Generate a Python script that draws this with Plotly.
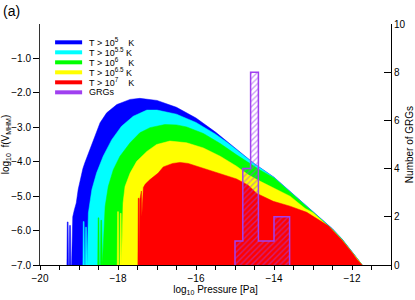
import plotly.graph_objects as go

# ---------------- data ----------------
blue_x = [-19.31, -19.30, -19.28, -19.27, -19.25, -19.24, -19.22, -19.21, -19.19, -19.16,
          -19.12, -19.07, -19.02, -18.97, -18.90, -18.85, -18.72, -18.59, -18.46, -18.29,
          -18.03, -17.69, -17.44, -17.0, -16.5, -16.0, -15.5, -15.0, -14.5, -14.0,
          -13.5, -13.0, -12.5, -12.25, -12.0, -11.87, -11.74]
blue_y = [-7.0, -5.75, -5.75, -7.0, -7.0, -5.85, -5.85, -7.0, -7.0, -5.6,
          -5.4, -5.2, -4.8, -4.52, -4.2, -4.03, -3.65, -3.26, -2.87, -2.58,
          -2.34, -2.19, -2.16, -2.22, -2.42, -2.73, -3.14, -3.6, -4.06, -4.45,
          -4.95, -5.45, -5.95, -6.25, -6.6, -6.8, -7.0]

cyan_x = [-18.90, -18.89, -18.87, -18.86, -18.84, -18.83, -18.81, -18.79, -18.76, -18.72,
          -18.67, -18.55, -18.38, -18.16, -17.91, -17.61, -17.26, -17.0, -16.5, -16.0,
          -15.5, -15.2, -15.0, -14.5, -14.0, -13.5, -13.0, -12.5, -12.25, -12.0,
          -11.87, -11.74]
cyan_y = [-7.0, -5.74, -5.74, -7.0, -7.0, -5.9, -5.9, -7.0, -5.49, -5.2,
          -4.81, -4.33, -3.84, -3.36, -2.97, -2.68, -2.5, -2.5, -2.62, -2.86,
          -3.2, -3.44, -3.62, -4.07, -4.46, -4.96, -5.46, -5.96, -6.26, -6.61,
          -6.81, -7.0]

green_x = [-18.52, -18.51, -18.49, -18.48, -18.45, -18.44, -18.42, -18.40, -18.33, -18.25,
           -18.12, -17.95, -17.69, -17.44, -17.18, -16.97, -16.8, -16.5, -16.24, -15.81,
           -15.38, -14.96, -14.66, -14.36, -14.0, -13.5, -13.0, -12.5, -12.25, -12.0,
           -11.87, -11.74]
green_y = [-7.0, -5.63, -5.63, -7.0, -7.0, -5.7, -5.7, -7.0, -5.3, -4.72,
           -4.23, -3.84, -3.45, -3.16, -3.01, -2.95, -2.92, -2.93, -2.99, -3.18,
           -3.47, -3.8, -4.02, -4.24, -4.47, -4.97, -5.47, -5.97, -6.27, -6.62,
           -6.82, -7.0]

yellow_x = [-18.02, -18.01, -17.99, -17.98, -17.95, -17.94, -17.92, -17.91, -17.87, -17.82,
            -17.69, -17.52, -17.26, -17.01, -16.67, -16.24, -15.81, -15.38, -14.96, -14.66,
            -14.44, -14.02, -13.59, -13.2, -13.0, -12.5, -12.25, -12.0, -11.87, -11.74]
yellow_y = [-7.0, -5.45, -5.45, -7.0, -7.0, -5.5, -5.5, -7.0, -5.2, -4.72,
            -4.33, -3.99, -3.7, -3.5, -3.4, -3.45, -3.6, -3.84, -4.13, -4.38,
            -4.52, -4.76, -5.0, -5.36, -5.48, -5.98, -6.28, -6.63, -6.83, -7.0]

red_x = [-17.49, -17.48, -17.46, -17.45, -17.44, -17.40, -17.39, -17.37, -17.35, -17.30,
         -17.18, -16.97, -16.84, -16.6, -16.41, -16.2, -15.98, -15.47, -14.96, -14.66,
         -14.44, -14.02, -13.59, -13.16, -12.82, -12.6, -12.5, -12.25, -12.0, -11.87,
         -11.74]
red_y = [-7.0, -5.06, -5.06, -7.0, -5.1, -4.85, -5.6, -4.81, -4.75, -4.65,
         -4.52, -4.33, -4.15, -4.05, -4.02, -4.05, -4.13, -4.33, -4.5, -4.68,
         -4.92, -5.15, -5.29, -5.47, -5.72, -5.87, -5.99, -6.29, -6.64, -6.84,
         -7.0]

grg_bin_left = [-15.0, -14.8, -14.6, -14.4, -14.2, -14.0, -13.8]
grg_counts = [1, 4, 8, 1, 1, 2, 2]
grg_bin_width = 0.2

legend_names = ["T\u00a0>\u00a010<sup>5</sup>\u00a0\u00a0\u00a0\u00a0K",
                "T\u00a0>\u00a010<sup>5.5</sup>\u00a0K",
                "T\u00a0>\u00a010<sup>6</sup>\u00a0\u00a0\u00a0\u00a0K",
                "T\u00a0>\u00a010<sup>6.5</sup>\u00a0K",
                "T\u00a0>\u00a010<sup>7</sup>\u00a0\u00a0\u00a0\u00a0K",
                "GRGs"]
series_colors = ["#0000ff", "#00ffff", "#00ff00", "#ffff00", "#ff0000"]
grg_color = "#a040f0"

x_range = [-20, -11]
y_range = [-7, 0]
y_ticks = [-7, -6, -5, -4, -3, -2, -1]
y2_range = [0, 10]

# ---------------- figure ----------------
FONT = "Liberation Sans, Arial, sans-serif"
fig = go.Figure()

series = [(blue_x, blue_y), (cyan_x, cyan_y), (green_x, green_y),
          (yellow_x, yellow_y), (red_x, red_y)]
for (xs, ys), col, nm in zip(series, series_colors, legend_names):
    fig.add_trace(go.Scatter(x=xs, y=ys, mode="lines", fill="toself", fillcolor=col,
                             line=dict(color=col, width=0.5), name=nm,
                             showlegend=False, hoverinfo="skip"))

# histogram (hatched bars, no outline)
fig.add_trace(go.Bar(x=grg_bin_left, y=grg_counts, width=grg_bin_width, offset=0,
                     yaxis="y2",
                     marker=dict(color="rgba(0,0,0,0)",
                                 line=dict(width=0),
                                 pattern=dict(shape="/", fgcolor=grg_color,
                                              bgcolor="rgba(0,0,0,0)", size=4,
                                              solidity=0.35)),
                     showlegend=False, hoverinfo="skip"))

# step outline of the histogram
last_edge = grg_bin_left[-1] + grg_bin_width
step_x = [grg_bin_left[0]] + grg_bin_left + [last_edge, last_edge]
step_y = [0] + grg_counts + [grg_counts[-1], 0]
fig.add_trace(go.Scatter(x=step_x, y=step_y, yaxis="y2", mode="lines",
                         line=dict(color=grg_color, width=1.5, shape="hv"),
                         showlegend=False, hoverinfo="skip"))

# manual legend
leg_top = 0.924
leg_step = 0.0415
for i, nm in enumerate(legend_names):
    col = series_colors[i] if i < len(series_colors) else grg_color
    yy = leg_top - i * leg_step
    fig.add_shape(type="line", xref="paper", yref="paper", x0=0.043, x1=0.12,
                  y0=yy, y1=yy, line=dict(color=col, width=4))
    fig.add_annotation(xref="paper", yref="paper", x=0.134, y=yy, text=nm,
                       showarrow=False, xanchor="left", yanchor="middle",
                       font=dict(size=9, color="black", family=FONT))

fig.add_annotation(xref="paper", yref="paper", x=-0.112, y=1.055, text="(a)",
                   showarrow=False, xanchor="left", yanchor="middle",
                   font=dict(size=14, color="black", family=FONT))

fig.update_layout(
    width=415, height=300,
    margin=dict(l=40, r=24, t=24, b=35),
    paper_bgcolor="white", plot_bgcolor="white",
    font=dict(family=FONT, size=10, color="black"),
    showlegend=False,
    barmode="overlay",
    xaxis=dict(range=x_range, tick0=-20, dtick=2, ticks="outside", ticklen=4,
               tickcolor="black", showline=True, linecolor="black", linewidth=1,
               showgrid=False, zeroline=False, automargin=False,
               minor=dict(dtick=0.5, ticks="outside", ticklen=4, tickcolor="black",
                          showgrid=False),
               title=dict(text="log<sub>10</sub> Pressure [Pa]", standoff=2,
                          font=dict(size=10))),
    xaxis2=dict(range=x_range, overlaying="x", side="top", anchor="y",
                tick0=-20, dtick=2, ticks="inside", ticklen=4, tickcolor="#555",
                showticklabels=False, showline=True, linecolor="#888", showgrid=False,
                zeroline=False, automargin=False,
                minor=dict(dtick=0.5, ticks="inside", ticklen=3, tickcolor="#555",
                           showgrid=False)),
    yaxis=dict(range=y_range, tickmode="array", tickvals=y_ticks, tickformat=".1f",
               ticks="outside", ticklen=6, tickcolor="black", showline=True,
               linecolor="#333", showgrid=False, zeroline=False, automargin=False,
               title=dict(text="log<sub>10</sub>  f(V<sub>MHM</sub>)", standoff=2,
                          font=dict(size=10))),
    yaxis2=dict(range=y2_range, overlaying="y", side="right", tick0=0, dtick=2,
                ticks="inside", ticklen=7, tickcolor="black", showline=True,
                linecolor="black", showgrid=False, zeroline=False, automargin=False,
                title=dict(text="Number of GRGs", standoff=2, font=dict(size=10))),
)

fig.write_html("out.html", config={"displayModeBar": False},
               post_script="document.body.style.margin='0';")
